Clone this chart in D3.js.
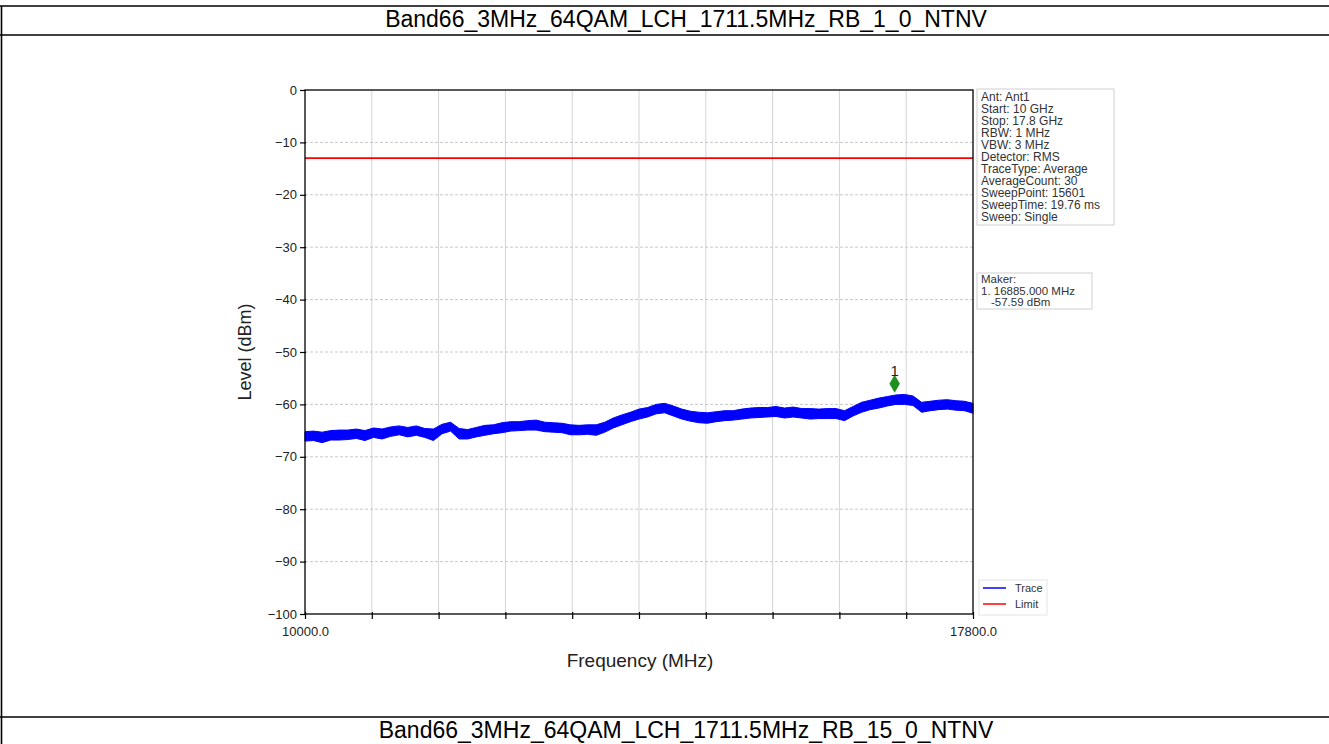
<!DOCTYPE html>
<html>
<head>
<meta charset="utf-8">
<script src="https://cdn.jsdelivr.net/npm/d3@7"></script>
<style>
  body { margin: 0; background: #fff; overflow: hidden; }
  text { font-family: "Liberation Sans", Arial, sans-serif; }
</style>
</head>
<body>
<script>
///////////////////////////
// DATA
var titleTop = "Band66_3MHz_64QAM_LCH_1711.5MHz_RB_1_0_NTNV";
var titleBottom = "Band66_3MHz_64QAM_LCH_1711.5MHz_RB_15_0_NTNV";

// trace envelope (max / min of the noisy trace), one pair every 100 MHz
var traceFreq = d3.range(10000, 17801, 100);
var traceMax = [
  -65.2, -65.1, -65.3, -65.0, -64.9, -64.9, -64.7, -65.0, -64.5, -64.7,
  -64.3, -64.1, -64.4, -64.1, -64.6, -64.7, -63.8, -63.4, -64.6, -64.8,
  -64.4, -64.0, -63.9, -63.5, -63.3, -63.3, -63.1, -63.0, -63.4, -63.5,
  -63.6, -63.9, -64.0, -63.9, -63.9, -63.4, -62.6, -62.0, -61.5, -60.9,
  -60.6, -60.0, -59.8, -60.3, -60.9, -61.3, -61.5, -61.6, -61.4, -61.2,
  -61.2, -60.9, -60.7, -60.6, -60.6, -60.4, -60.7, -60.5, -60.8, -60.8,
  -60.9, -60.8, -60.8, -61.2, -60.4, -59.6, -59.2, -58.8, -58.5, -58.2,
  -58.1, -58.4, -59.6, -59.4, -59.2, -59.1, -59.3, -59.4, -59.8
];
var traceMin = [
  -67.0, -66.9, -67.3, -66.8, -66.8, -66.7, -66.5, -66.9, -66.3, -66.6,
  -66.1, -65.8, -66.2, -65.9, -66.3, -66.9, -65.6, -65.1, -66.6, -66.6,
  -66.2, -65.9, -65.6, -65.4, -65.1, -65.0, -64.9, -64.9, -65.2, -65.3,
  -65.4, -65.8, -65.8, -65.7, -65.9, -65.3, -64.5, -63.9, -63.3, -62.8,
  -62.4, -61.8, -61.6, -62.2, -62.8, -63.2, -63.5, -63.6, -63.3, -63.1,
  -63.0, -62.8, -62.6, -62.5, -62.4, -62.3, -62.6, -62.4, -62.6, -62.8,
  -62.7, -62.7, -62.7, -63.1, -62.2, -61.5, -61.0, -60.7, -60.3, -60.0,
  -60.0, -60.2, -61.5, -61.2, -61.0, -60.9, -61.1, -61.2, -61.7
];
var limitLevel = -13;
var markerFreq = 16885.0;
var markerLevel = -57.59;

var yTicks = [0, -10, -20, -30, -40, -50, -60, -70, -80, -90, -100];
var xTicks = d3.range(0, 11).map(function(i){ return 10000 + i * 780; });
var xTickLabels = [10000, 17800];

var infoLines = ["Ant: Ant1", "Start: 10 GHz", "Stop: 17.8 GHz", "RBW: 1 MHz",
  "VBW: 3 MHz", "Detector: RMS", "TraceType: Average", "AverageCount: 30",
  "SweepPoint: 15601", "SweepTime: 19.76 ms", "Sweep: Single"];
var makerLines = ["Maker:", "1. 16885.000 MHz", "-57.59 dBm"];
var makerIndent = [0, 0, 10];
var legendNames = ["Trace", "Limit"];
var legendColors = ["#0000ff", "#ff0000"];

///////////////////////////
// CONSTRUCT SVG
var width = 1329, height = 744;
var svg = d3.select("body").append("svg")
  .attr("width", width)
  .attr("height", height);

// table borders + captions
[6, 35, 717].forEach(function(yy){
  svg.append("line").attr("x1", 0).attr("x2", width).attr("y1", yy).attr("y2", yy)
    .attr("stroke", "#000").attr("stroke-width", 1.6);
});
svg.append("line").attr("x1", 1.5).attr("x2", 1.5).attr("y1", 6).attr("y2", height)
  .attr("stroke", "#000").attr("stroke-width", 1.6);

svg.append("text").attr("x", 686).attr("y", 27)
  .attr("text-anchor", "middle").style("font-size", "23px")
  .text(titleTop);
svg.append("text").attr("x", 686).attr("y", 738)
  .attr("text-anchor", "middle").style("font-size", "23px")
  .text(titleBottom);

///////////////////////////
// SCALES
var x = d3.scaleLinear().domain([10000, 17800]).range([305, 973]);
var y = d3.scaleLinear().domain([-100, 0]).range([614, 90]);

// grid
svg.append("g").selectAll("line")
  .data(xTicks.slice(1, -1)).enter().append("line")
  .attr("x1", function(d){ return x(d); }).attr("x2", function(d){ return x(d); })
  .attr("y1", y(0)).attr("y2", y(-100))
  .attr("stroke", "#d4d4d4").attr("stroke-width", 1);
svg.append("g").selectAll("line")
  .data(yTicks.slice(1, -1)).enter().append("line")
  .attr("x1", x(10000)).attr("x2", x(17800))
  .attr("y1", function(d){ return y(d); }).attr("y2", function(d){ return y(d); })
  .attr("stroke", "#c8c8c8").attr("stroke-width", 1)
  .attr("stroke-dasharray", "3,2");

// limit
svg.append("line")
  .attr("x1", x(10000)).attr("x2", x(17800))
  .attr("y1", y(limitLevel)).attr("y2", y(limitLevel))
  .attr("stroke", "#ff0000").attr("stroke-width", 1.6);

// trace band
var area = d3.area()
  .x(function(d, i){ return x(traceFreq[i]); })
  .y0(function(d, i){ return y(traceMin[i]); })
  .y1(function(d){ return y(d); });
svg.append("path")
  .datum(traceMax)
  .attr("d", area)
  .attr("fill", "#0000ff")
  .attr("stroke", "#0000ff")
  .attr("stroke-width", 1);

// frame
svg.append("rect")
  .attr("x", x(10000)).attr("y", y(0))
  .attr("width", x(17800) - x(10000)).attr("height", y(-100) - y(0))
  .attr("fill", "none").attr("stroke", "#000").attr("stroke-width", 1.3);

// marker
svg.append("path")
  .attr("d", d3.symbol().type(d3.symbolDiamond).size(95))
  .attr("transform", "translate(" + x(markerFreq) + "," + (y(markerLevel) - 8) + ")")
  .attr("fill", "#1f8f1f");
svg.append("text")
  .attr("x", x(markerFreq)).attr("y", y(markerLevel) - 16)
  .attr("text-anchor", "middle").style("font-size", "15px").attr("fill", "#222")
  .text("1");

///////////////////////////
// AXES
var yAxis = svg.append("g")
  .attr("transform", "translate(" + x(10000) + ",0)")
  .call(d3.axisLeft(y).tickValues(yTicks).tickSize(5).tickPadding(3));
var xAxis = svg.append("g")
  .attr("transform", "translate(0," + y(-100) + ")")
  .call(d3.axisBottom(x).tickValues(xTicks).tickSize(5).tickPadding(8)
    .tickFormat(function(d){ return xTickLabels.indexOf(d) >= 0 ? d.toFixed(1) : ""; }));
xAxis.selectAll(".tick line").attr("y1", -2);
yAxis.selectAll(".tick line").attr("x1", 1);
[xAxis, yAxis].forEach(function(a){
  a.select(".domain").remove();
  a.selectAll(".tick line").attr("stroke", "#000").attr("stroke-width", 1.2);
  a.selectAll("text").style("font-size", "13px")
    .style("font-family", "'Liberation Sans', Arial, sans-serif").attr("fill", "#222");
});

svg.append("text")
  .attr("transform", "translate(251,352) rotate(-90)")
  .attr("text-anchor", "middle").style("font-size", "18px").attr("fill", "#222")
  .text("Level (dBm)");
svg.append("text")
  .attr("x", 640).attr("y", 667)
  .attr("text-anchor", "middle").style("font-size", "19px").attr("fill", "#222")
  .text("Frequency (MHz)");

///////////////////////////
// INFO BOXES
svg.append("rect").attr("x", 977).attr("y", 89).attr("width", 137).attr("height", 136)
  .attr("fill", "#fff").attr("stroke", "#cfcfcf");
svg.append("g").selectAll("text")
  .data(infoLines).enter().append("text")
  .attr("x", 981).attr("y", function(d, i){ return 101 + i * 12; })
  .style("font-size", "12px").attr("fill", "#333")
  .text(function(d){ return d; });

svg.append("rect").attr("x", 977).attr("y", 273).attr("width", 115).attr("height", 36)
  .attr("fill", "#fff").attr("stroke", "#cfcfcf");
svg.append("g").selectAll("text")
  .data(makerLines).enter().append("text")
  .attr("x", function(d, i){ return 981 + makerIndent[i]; })
  .attr("y", function(d, i){ return 283 + i * 11.5; })
  .style("font-size", "11.5px").attr("fill", "#333")
  .text(function(d){ return d; });

// legend
svg.append("rect").attr("x", 979).attr("y", 580).attr("width", 68).attr("height", 35)
  .attr("fill", "#fff").attr("stroke", "#e4e4e4");
var lg = svg.append("g").selectAll("g")
  .data(legendNames).enter().append("g")
  .attr("transform", function(d, i){ return "translate(983," + (588 + i * 16) + ")"; });
lg.append("line").attr("x1", 0).attr("x2", 23)
  .attr("stroke", function(d, i){ return legendColors[i]; }).attr("stroke-width", 1.5);
lg.append("text").attr("x", 32).attr("y", 4)
  .style("font-size", "11px").attr("fill", "#333")
  .text(function(d){ return d; });
</script>
</body>
</html>
